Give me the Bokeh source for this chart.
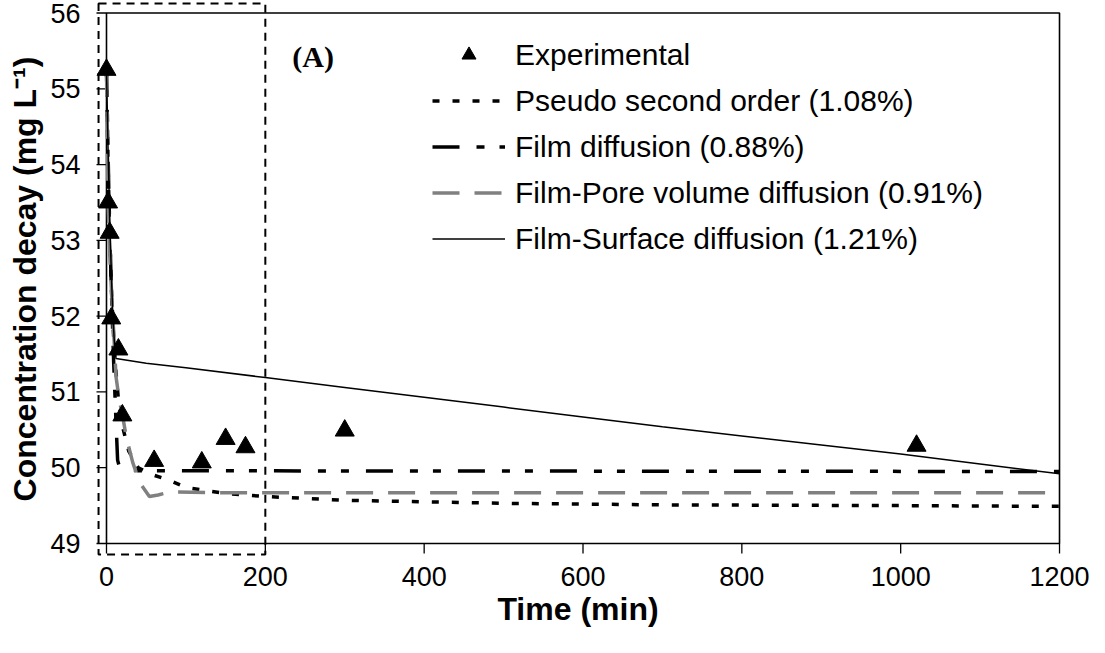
import math
from bokeh.plotting import figure
from bokeh.models import FixedTicker, Legend, LegendItem, Label
from bokeh.embed import file_html
from bokeh.resources import INLINE

# ---------------- data ----------------
exp_t = [0, 2, 4, 6, 15, 20, 60, 120, 150, 175, 300, 1020]
exp_c = [55.25, 53.50, 53.10, 51.97, 51.56, 50.69, 50.09, 50.07, 50.38, 50.27, 50.49, 50.29]

pso_t = [0, 2, 4, 6, 10, 15, 20, 28, 40, 60, 80, 100, 150, 200, 300, 500, 700, 1000, 1200]
pso_c = [55.25, 54.0, 53.1, 52.4, 51.5, 50.9, 50.55, 50.22, 50.0, 49.9, 49.83, 49.74, 49.66,
         49.62, 49.57, 49.53, 49.51, 49.50, 49.49]

film_t = [0, 3, 6, 9, 12, 14, 16, 40, 1200]
film_c = [55.25, 53.6, 52.4, 51.4, 50.6, 50.1, 50.02, 49.96, 49.95]

pore_t = [0, 2, 5, 8, 12, 16, 20, 25, 33, 42, 54, 65, 80, 150, 1200]
pore_c = [55.25, 53.5, 52.6, 52.0, 51.2, 50.9, 50.7, 50.4, 50.07, 49.8, 49.62, 49.64, 49.68,
          49.67, 49.67]

surf_t = [0, 2, 4, 6, 8, 10, 12, 50, 100, 200, 300, 400, 500, 600, 700, 800, 900, 1000,
          1100, 1200]
surf_c = [55.25, 54.2, 53.3, 52.6, 52.0, 51.65, 51.44, 51.38, 51.32, 51.19, 51.06, 50.93,
          50.80, 50.67, 50.54, 50.42, 50.30, 50.18, 50.05, 49.92]

x_ticks = [0, 200, 400, 600, 800, 1000, 1200]
y_ticks = [49, 50, 51, 52, 53, 54, 55, 56]

legend_labels = ["Experimental", "Pseudo second order (1.08%)", "Film diffusion (0.88%)",
                 "Film-Pore volume diffusion (0.91%)", "Film-Surface diffusion (1.21%)"]

# dashed zoom-box extent (data units)
zoom_left, zoom_right, zoom_bottom, zoom_top = -10, 200, 48.855, 56.125

FONT = "Liberation Sans"

# frame slightly larger than the axes box so that the dashed zoom box can stick out
p = figure(width=1089, height=637, x_range=(-15.1, 1202.5), y_range=(48.8285, 56.152),
           output_backend="svg", toolbar_location=None,
           min_border_left=94, min_border_right=28, min_border_top=1, min_border_bottom=81)

p.xgrid.visible = False
p.ygrid.visible = False
p.outline_line_color = None
p.background_fill_color = "white"
p.border_fill_color = "white"

for ax in (p.xaxis[0], p.yaxis[0]):
    ax.axis_line_color = None
    ax.major_tick_line_color = None
    ax.major_tick_out = 0
    ax.major_tick_in = 0
    ax.minor_tick_line_color = None
    ax.major_label_text_font = FONT
    ax.major_label_text_font_size = "27px"
    ax.major_label_text_color = "black"
    ax.axis_label_text_font = FONT
    ax.axis_label_text_font_size = "32px"
    ax.axis_label_text_font_style = "bold"
    ax.axis_label_text_color = "black"

p.xaxis.ticker = FixedTicker(ticks=x_ticks)
p.yaxis.ticker = FixedTicker(ticks=y_ticks)
p.xaxis.axis_label = "Time (min)"
p.yaxis.axis_label = "Concentration decay (mg L\u207b\u00b9)"
p.xaxis.major_label_standoff = 10
p.yaxis.major_label_standoff = 14
p.xaxis.axis_label_standoff = 2
p.yaxis.axis_label_standoff = 4

# axes box and tick marks
x0, x1, y0, y1 = x_ticks[0], x_ticks[-1], y_ticks[0], y_ticks[-1]
p.quad(left=[x0], right=[x1], bottom=[y0], top=[y1], fill_color=None,
       line_color="black", line_width=1.6)
p.ray(x=[x0] * len(y_ticks), y=y_ticks, length=10, length_units="screen", angle=math.pi,
      line_color="black", line_width=1.3)
p.ray(x=x_ticks, y=[y0] * len(x_ticks), length=10, length_units="screen",
      angle=-math.pi / 2, line_color="black", line_width=1.3)

# dashed zoom box
p.quad(left=[zoom_left], right=[zoom_right], bottom=[zoom_bottom], top=[zoom_top],
       fill_color=None, line_color="black", line_width=2, line_dash="8 6")

r_pso = p.line(pso_t, pso_c, line_color="black", line_width=3.5, line_dash="7 13")
r_film = p.line(film_t, film_c, line_color="black", line_width=3.5,
                line_dash="27 17 8 15 8 17")
r_pore = p.line(pore_t, pore_c, line_color="#808080", line_width=3.5, line_dash="27 15")
r_surf = p.line(surf_t, surf_c, line_color="black", line_width=1.5)
r_exp = p.scatter(exp_t, exp_c, marker="triangle", size=19, fill_color="black",
                  line_color="black")

legend = Legend(items=[
    LegendItem(label=legend_labels[0], renderers=[r_exp]),
    LegendItem(label=legend_labels[1], renderers=[r_pso]),
    LegendItem(label=legend_labels[2], renderers=[r_film]),
    LegendItem(label=legend_labels[3], renderers=[r_pore]),
    LegendItem(label=legend_labels[4], renderers=[r_surf]),
], location=(338, 300), glyph_width=73, glyph_height=35, label_height=35, spacing=11,
    padding=0, margin=0, label_standoff=10, border_line_color=None,
    background_fill_alpha=0, label_text_font=FONT, label_text_font_size="30px",
    label_text_color="black")
p.add_layout(legend)

lab = Label(x=234, y=55.43, text="(A)", text_font="Liberation Serif",
            text_font_style="bold", text_font_size="30px", text_baseline="middle",
            text_align="left", text_color="black")
p.add_layout(lab)

open("out.html", "w").write(file_html(p, INLINE))
